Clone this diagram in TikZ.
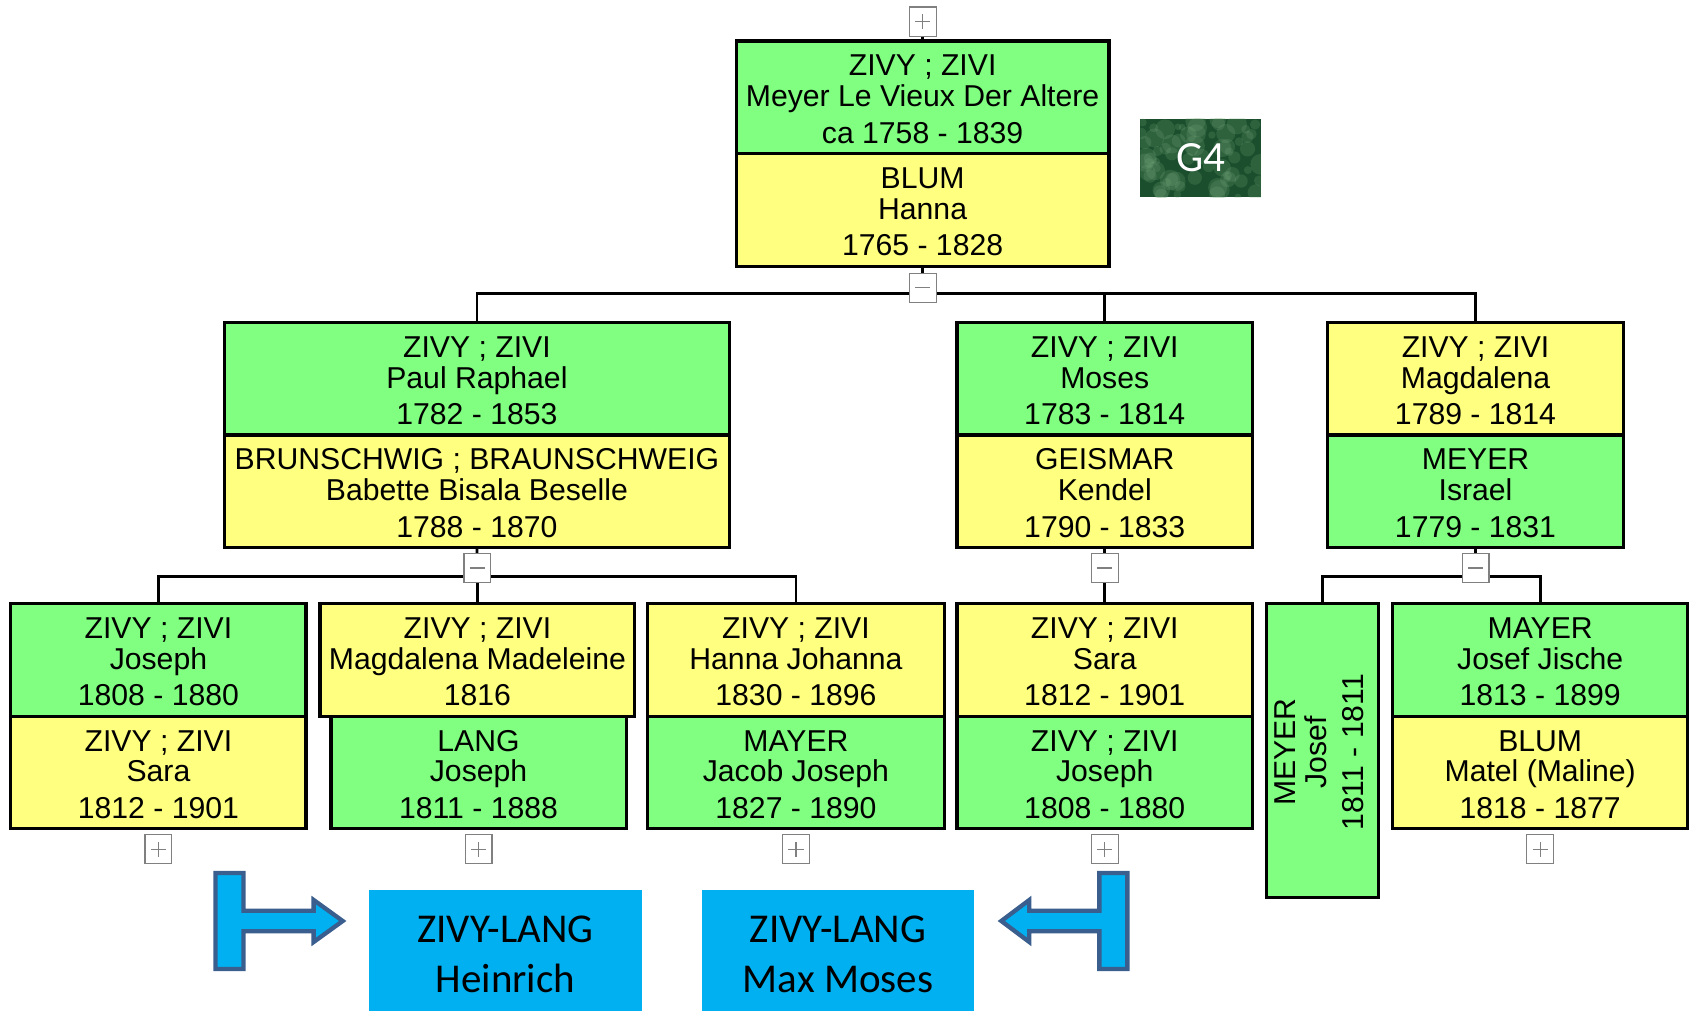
\documentclass[tikz,border=0pt]{standalone}
\usepackage{fontspec}
\setmainfont{Liberation Sans}
\newfontfamily\calib{Carlito}
\usetikzlibrary{fit}
\definecolor{pgreen}{RGB}{128,255,128}
\definecolor{pyellow}{RGB}{255,255,128}
\definecolor{cyanb}{RGB}{0,176,240}
\definecolor{arrline}{RGB}{58,94,142}
\definecolor{gdark}{RGB}{26,78,44}
\definecolor{glight}{RGB}{120,170,125}
\definecolor{toggray}{RGB}{128,128,128}
\tikzset{
 pbox/.style={draw=black, line width=3pt, inner sep=0pt, outer sep=0pt},
 ptext/.style={anchor=base, inner sep=0pt, font=\fontsize{28}{32}\selectfont},
 conn/.style={draw=black, line width=2.5pt},
 tog/.style={draw=toggray, fill=white, line width=1pt, minimum width=25pt, minimum height=27pt, inner sep=0pt},
 togsign/.style={draw=toggray, line width=1pt},
 bluebox/.style={fill=cyanb, inner sep=0pt, outer sep=0pt},
 btext/.style={anchor=base, inner sep=0pt, font=\calib\fontsize{38}{44}\selectfont},
 tarrow/.style={draw=arrline, fill=cyanb, line width=4pt, line join=miter},
}
\newcommand\pbx[8]{%
 \node[pbox, fill=#5, fit={(#2,#4) (#3,#4+104.5)}] (#1) {};
 \node[ptext] (#1-1) at ({(#2+#3)/2},#4+32.5) {#6};
 \node[ptext] (#1-2) at ({(#2+#3)/2},#4+61) {#7};
 \node[ptext] (#1-3) at ({(#2+#3)/2},#4+95) {#8};
}
\newcommand\plusb[3]{%
 \node[tog] (#1) at (#2,#3) {};
 \draw[togsign] ([xshift=-7pt]#1.center) -- ([xshift=7pt]#1.center);
 \draw[togsign] ([yshift=-7pt]#1.center) -- ([yshift=7pt]#1.center);
}
\newcommand\minusb[3]{%
 \node[tog] (#1) at (#2,#3) {};
 \draw[togsign] ([xshift=-7pt]#1.center) -- ([xshift=7pt]#1.center);
}
\begin{document}
\begin{tikzpicture}[x=1pt,y=-1pt]
\useasboundingbox (0,0) rectangle (1568,938);
% top couple
\pbx{rA}{683}{1029}{38}{pgreen}{ZIVY ; ZIVI}{Meyer Le Vieux Der Altere}{ca 1758 - 1839}
\pbx{rB}{683}{1029}{142.5}{pyellow}{BLUM}{Hanna}{1765 - 1828}
% middle row
\pbx{pA}{208}{677}{299}{pgreen}{ZIVY ; ZIVI}{Paul Raphael}{1782 - 1853}
\pbx{pB}{208}{677}{403.5}{pyellow}{BRUNSCHWIG ; BRAUNSCHWEIG}{Babette Bisala Beselle}{1788 - 1870}
\pbx{moA}{888}{1162}{299}{pgreen}{ZIVY ; ZIVI}{Moses}{1783 - 1814}
\pbx{moB}{888}{1162}{403.5}{pyellow}{GEISMAR}{Kendel}{1790 - 1833}
\pbx{maA}{1232}{1506}{299}{pyellow}{ZIVY ; ZIVI}{Magdalena}{1789 - 1814}
\pbx{maB}{1232}{1506}{403.5}{pgreen}{MEYER}{Israel}{1779 - 1831}
% bottom row
\pbx{jA}{10}{284}{560}{pgreen}{ZIVY ; ZIVI}{Joseph}{1808 - 1880}
\pbx{jB}{10}{284}{664.5}{pyellow}{ZIVY ; ZIVI}{Sara}{1812 - 1901}
\pbx{lB}{307}{581}{664.5}{pgreen}{LANG}{Joseph}{1811 - 1888}
\pbx{lA}{297}{589}{560}{pyellow}{ZIVY ; ZIVI}{Magdalena Madeleine}{1816}
\pbx{hA}{601}{876}{560}{pyellow}{ZIVY ; ZIVI}{Hanna Johanna}{1830 - 1896}
\pbx{hB}{601}{876}{664.5}{pgreen}{MAYER}{Jacob Joseph}{1827 - 1890}
\pbx{sA}{888}{1162}{560}{pyellow}{ZIVY ; ZIVI}{Sara}{1812 - 1901}
\pbx{sB}{888}{1162}{664.5}{pgreen}{ZIVY ; ZIVI}{Joseph}{1808 - 1880}
\node[pbox, fill=pgreen, fit={(1175,560) (1279,833)}] (mj) {};
\node[ptext, rotate=90] (mj-1) at (1202,698) {MEYER};
\node[ptext, rotate=90] (mj-2) at (1231,698) {Josef};
\node[ptext, rotate=90] (mj-3) at (1265,698) {1811 - 1811};
\pbx{yA}{1292}{1566}{560}{pgreen}{MAYER}{Josef Jische}{1813 - 1899}
\pbx{yB}{1292}{1566}{664.5}{pyellow}{BLUM}{Matel (Maline)}{1818 - 1877}
% connectors
\coordinate (bar0) at (856,272);
\coordinate (bar1) at (443,535);
\coordinate (bar3) at (1369,535);
\draw[conn] (rB.south) -- (bar0);
\draw[conn] (pA.north) |- (bar0) -| (maA.north);
\draw[conn] (bar0) -| (moA.north);
\draw[conn] (pB.south) -- (bar1);
\draw[conn] (jA.north) |- (bar1) -| (hA.north);
\draw[conn] (bar1) -- (lA.north);
\draw[conn] (moB.south) -- (sA.north);
\draw[conn] (maB.south) -- (bar3);
\draw[conn] (mj.north) |- (bar3) -| (yA.north);
% toggles
\plusb{t0}{856}{20}
\draw[conn] (t0.south) -- (rA.north);
\minusb{m0}{856}{267}
\minusb{m1}{443}{527}
\minusb{m2}{1025}{527}
\minusb{m3}{1369}{527}
\plusb{p1}{147}{788}
\plusb{p2}{444}{788}
\plusb{p3}{738.5}{788}
\plusb{p4}{1025}{788}
\plusb{p5}{1429}{788}
% G4 badge
\node[fill=gdark, inner sep=0pt, fit={(1058,110) (1170,183)}] (g4) {};
\begin{scope}
\clip (1058,110) rectangle (1170,183);
\pgfmathsetseed{7}
\foreach \i in {1,...,70}{
  \pgfmathsetmacro\xx{1058+112*rnd}
  \pgfmathsetmacro\yy{110+73*rnd}
  \pgfmathsetmacro\rr{3+7*rnd}
  \fill[glight, opacity=0.22] (\xx,\yy) circle (\rr pt);
}
\end{scope}
\node[text=white, inner sep=0pt, font=\calib\fontsize{40}{44}\selectfont] (g4t) at (g4.center) {G4};
% blue boxes
\node[bluebox, fit={(342,826) (596,940)}] (zh) {};
\node[btext] (zh-1) at (469,874) {ZIVY-LANG};
\node[btext] (zh-2) at (469,921) {Heinrich};
\node[bluebox, fit={(651,826) (904,940)}] (zm) {};
\node[btext] (zm-1) at (777.5,874) {ZIVY-LANG};
\node[btext] (zm-2) at (777.5,921) {Max Moses};
% T arrows
\draw[tarrow] (200,810) -- (226,810) -- (226,845) -- (291,845) -- (291,835) -- (318,854.5)
  -- (291,874) -- (291,864) -- (226,864) -- (226,899) -- (200,899) -- cycle;
\draw[tarrow] (1046,810) -- (1020,810) -- (1020,845) -- (955,845) -- (955,835) -- (929,854.5)
  -- (955,874) -- (955,864) -- (1020,864) -- (1020,899) -- (1046,899) -- cycle;
\end{tikzpicture}
\end{document}
